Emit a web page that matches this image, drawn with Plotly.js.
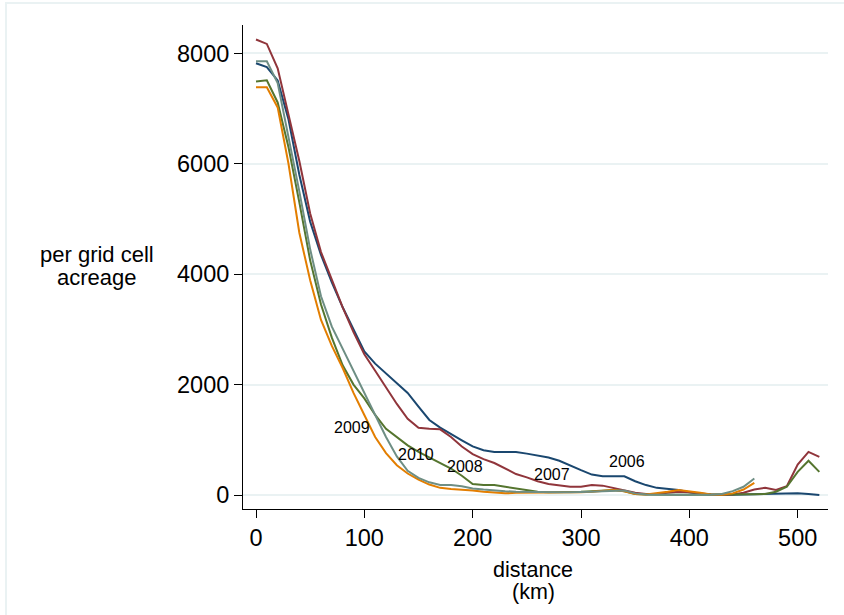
<!DOCTYPE html>
<html>
<head>
<meta charset="utf-8">
<script src="https://cdn.plot.ly/plotly-3.0.1.min.js"></script>
<style>html,body{margin:0;padding:0;background:#fff;}#chart{width:844px;height:615px;}</style>
</head>
<body>
<div id="chart"></div>
<script>
// distance (km), 10 km bins
const distance = [0,10,20,30,40,50,60,70,80,90,100,110,120,130,140,150,160,170,180,190,200,210,220,230,240,250,260,270,280,290,300,310,320,330,340,350,360,370,380,390,400,410,420,430,440,450,460,470,480,490,500,510,520];

const acre2006 = [7820,7750,7510,6800,5800,4950,4350,3850,3400,3000,2600,2380,2200,2030,1850,1600,1360,1220,1100,990,880,810,780,780,780,750,710,680,620,530,450,370,340,340,340,250,180,130,110,90,50,20,10,5,5,10,15,20,25,30,30,20,0];
const acre2007 = [8250,8170,7730,6900,6050,5100,4400,3900,3400,2950,2550,2250,1950,1650,1380,1220,1200,1190,1050,880,740,650,580,480,380,320,250,200,170,150,150,180,170,130,80,40,20,20,40,60,50,30,10,5,10,40,100,130,90,160,550,780,690];
const acre2008 = [7490,7510,7110,6300,5300,4250,3450,2850,2350,2000,1750,1450,1200,1050,900,780,680,570,480,350,200,180,180,150,120,80,60,50,50,50,60,70,80,90,70,20,10,5,5,5,5,5,5,5,5,10,15,20,60,150,420,620,420];
const acre2009 = [7385,7385,7020,6000,4750,3890,3170,2700,2300,1850,1450,1050,760,540,390,280,190,130,110,100,80,60,50,30,40,40,40,40,40,40,50,60,80,90,70,20,10,30,60,90,70,40,10,5,30,100,220];
const acre2010 = [7855,7855,7460,6500,5500,4450,3600,3050,2650,2280,1850,1450,1050,700,440,310,230,180,180,160,120,100,80,70,60,55,50,50,50,50,50,60,70,80,80,30,10,5,5,5,5,5,5,20,70,150,300];

const seriesNames = ["2006","2007","2008","2009","2010"];
const seriesValues = [acre2006, acre2007, acre2008, acre2009, acre2010];
const seriesColors = ["#1a476f","#90353b","#55752f","#e37e00","#6e8e84"];

// in-chart labels
const labelText = ["2009","2010","2008","2007","2006"];
const labelX = [89,148,193,273,342];
const labelY = [1230,742,525,380,603];

const xTicks = [0,100,200,300,400,500];
const yTicks = [0,2000,4000,6000,8000];

const xTitleLines = ["distance","(km)"];
const yTitleLines = ["per grid cell","acreage"];

const traces = seriesValues.map((vals, i) => ({
  type: 'scatter', mode: 'lines', name: seriesNames[i],
  x: distance.slice(0, vals.length), y: vals,
  line: {color: seriesColors[i], width: 2}, hoverinfo: 'skip'
}));

const font = "Liberation Sans, Arial, Helvetica, sans-serif";
const L = 243, R = 828, T = 25, B = 509;
const px = v => (v - L) / (R - L);
const py = v => (B - v) / (B - T);

const annotations = labelText.map((t, i) => ({
  text: t, x: labelX[i], y: labelY[i], xref: 'x', yref: 'y',
  showarrow: false, font: {family: font, size: 16, color: '#000'}
}));
[254, 277].forEach((yy, i) => annotations.push({
  text: yTitleLines[i], xref: 'paper', yref: 'paper', x: px(97), y: py(yy),
  xanchor: 'center', yanchor: 'middle', showarrow: false,
  font: {family: font, size: 22, color: '#000'}
}));
[570, 592].forEach((yy, i) => annotations.push({
  text: xTitleLines[i], xref: 'paper', yref: 'paper', x: px(533), y: py(yy),
  xanchor: 'center', yanchor: 'middle', showarrow: false,
  font: {family: font, size: 21.5, color: '#000'}
}));

const layout = {
  width: 844, height: 615,
  margin: {l: L, r: 844 - R, t: T, b: 615 - B, pad: 0},
  paper_bgcolor: '#fff', plot_bgcolor: '#fff',
  showlegend: false,
  font: {family: font, size: 22, color: '#000'},
  xaxis: {
    range: [-12, 528], tickvals: xTicks, ticktext: xTicks.map(String),
    showgrid: false, zeroline: false, showline: true, linecolor: '#000', linewidth: 1,
    ticks: 'outside', ticklen: 8, tickcolor: '#000', tickfont: {family: font, size: 23.5}
  },
  yaxis: {
    range: [-253, 8513], tickvals: yTicks, ticktext: yTicks.map(String),
    showgrid: true, gridcolor: '#eaf2f3', gridwidth: 2, zeroline: false,
    showline: true, linecolor: '#000', linewidth: 1,
    ticks: 'outside', ticklen: 8, tickcolor: '#000', tickfont: {family: font, size: 23.5}
  },
  shapes: [{
    type: 'rect', xref: 'paper', yref: 'paper',
    x0: px(6), x1: px(900), y0: py(700), y1: py(3),
    line: {color: '#eaf2f3', width: 2}, fillcolor: 'rgba(0,0,0,0)', layer: 'below'
  }],
  annotations: annotations
};

Plotly.newPlot('chart', traces, layout, {staticPlot: true, displayModeBar: false});
</script>
</body>
</html>
